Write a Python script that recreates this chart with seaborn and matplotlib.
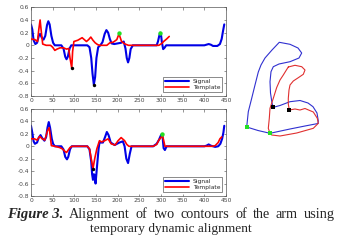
import numpy as np
import pandas as pd
import matplotlib
matplotlib.use("Agg")
import matplotlib.pyplot as plt
import seaborn as sns

# ---------------- data ----------------
# Top panel: original signal (blue) and template (red)
sig_x = [0, 3, 6, 10, 14, 18, 21, 25, 29, 33, 37, 40, 43, 47, 51, 55, 70, 75, 79, 82, 85, 89, 93,
         130, 135, 139, 142, 145, 148, 151, 155, 160, 165, 170, 174, 178, 182, 186, 192, 200, 208,
         214, 218, 221, 224, 227, 230, 235, 290, 293, 296, 298, 300, 302, 305, 308, 312, 400, 405,
         410, 415, 420, 430, 436, 440, 443, 446]
sig_y = [0.33, 0.25, 0.08, 0.02, 0.04, 0.15, 0.18, 0.12, 0.09, 0.15, 0.32, 0.38, 0.33, 0.15, 0.04,
         0.0, 0.0, -0.05, -0.18, -0.22, -0.18, -0.05, 0.0, 0.0, -0.03, -0.2, -0.45, -0.62, -0.5,
         -0.2, -0.03, 0.0, 0.05, 0.18, 0.24, 0.2, 0.1, 0.03, 0.02, 0.03, 0.04, 0.06, -0.05, -0.2,
         -0.27, -0.2, -0.06, 0.0, 0.0, 0.06, 0.15, 0.2, 0.17, 0.05, -0.06, -0.04, 0.0, 0.0, 0.01,
         0.02, 0.01, -0.01, -0.01, 0.02, 0.1, 0.22, 0.33]

tpl_x = [0, 9, 15, 18, 21, 24, 27, 35, 45, 50, 55, 60, 67, 75, 82, 87, 90, 94, 96, 99, 108, 118,
         128, 133, 138, 143, 148, 154, 159, 175, 182, 190, 198, 203, 209, 217, 225, 295, 302, 306,
         313, 319]
tpl_y = [0.1, 0.09, 0.06, 0.25, 0.4, 0.2, 0.02, 0.0, 0.0, -0.03, -0.08, -0.06, -0.04, -0.04, -0.06,
         -0.05, -0.2, -0.36, -0.1, 0.06, 0.08, 0.12, 0.06, 0.09, 0.13, 0.08, 0.04, 0.01, 0.0, 0.0,
         0.04, 0.05, 0.09, 0.18, 0.06, 0.02, 0.0, 0.0, 0.03, 0.06, 0.1, 0.14]

# Bottom panel: warped signal (blue) and warped template (red)
wsig_x = [0, 3, 6, 9, 14, 18, 22, 26, 31, 35, 38, 41, 44, 48, 51, 55, 70, 75, 79, 83, 86, 90, 94,
          130, 135, 139, 141, 143, 145, 147, 149, 152, 156, 158, 166, 171, 175, 179, 184, 193, 204,
          212, 216, 220, 224, 228, 232, 282, 290, 295, 300, 303, 306, 309, 313, 400, 405, 410, 415,
          425, 432, 437, 441, 444, 446]
wsig_y = [0.33, 0.22, 0.08, 0.04, 0.06, 0.14, 0.18, 0.13, 0.09, 0.15, 0.3, 0.39, 0.3, 0.12, 0.04,
          0.0, 0.0, -0.05, -0.17, -0.21, -0.17, -0.05, 0.0, 0.0, -0.05, -0.25, -0.45, -0.54, -0.45,
          -0.46, -0.6, -0.35, -0.04, 0.06, 0.06, 0.15, 0.23, 0.18, 0.06, 0.02, 0.06, 0.08, 0.0, -0.2,
          -0.27, -0.12, 0.0, 0.0, 0.04, 0.1, 0.18, 0.2, -0.03, -0.06, 0.0, 0.0, 0.01, 0.03, 0.01,
          -0.01, 0.0, 0.04, 0.12, 0.22, 0.33]

wtpl_x = [0, 8, 14, 20, 26, 32, 38, 42, 47, 55, 66, 72, 78, 82, 86, 90, 95, 130, 135, 139, 143,
          147, 152, 158, 163, 170, 178, 185, 194, 201, 208, 216, 221, 226, 282, 290, 295, 300, 303,
          306, 309, 418, 425, 432, 436, 440]
wtpl_y = [0.12, 0.12, 0.1, 0.16, 0.12, 0.1, 0.25, 0.3, 0.01, 0.0, -0.02, -0.04, -0.08, -0.1, -0.06,
          -0.02, 0.0, 0.0, -0.04, -0.2, -0.36, -0.2, -0.04, 0.09, 0.07, 0.09, 0.12, 0.04, 0.02, 0.09,
          0.14, 0.09, 0.03, 0.0, 0.0, 0.03, 0.1, 0.14, 0.18, 0.1, 0.0, 0.0, 0.01, 0.06, 0.12, 0.15]

# key points (x, y)
top_black = [(94, -0.36), (145, -0.62)]
top_green = [(203, 0.19), (298, 0.2)]
bot_black = [(143, -0.36)]
bot_green = [(303, 0.19)]

# Right panel: two arm contours (image coordinates)
blue_cx = [246.7, 248.3, 251.7, 255, 258.3, 261, 265, 272, 279.3, 290, 298, 301.7, 299, 290, 279,
           273.3, 271, 270, 270.5, 272, 273.3, 280, 290, 300, 308, 313, 317, 318.3, 318, 305, 290,
           270, 258, 246.7]
blue_cy = [127, 111.7, 98.3, 85, 72, 65, 58, 50, 42.3, 44.3, 48, 53, 58, 61.7, 64, 66.7, 71.7, 81.7,
           93, 103, 107.3, 105.5, 101.7, 100.5, 103, 106.7, 113, 121, 123.5, 126, 129, 133.3, 130.5,
           127]
red_cx = [288.3, 295, 301.7, 305, 303.3, 298.3, 293.3, 290, 289, 288.3, 288.3, 289.3, 295, 300,
          305, 313.3, 317.3, 318.3, 313.3, 296.7, 280, 271.7, 270, 268.3, 269.3, 270, 273.3, 276.7,
          280, 283.3, 286.7, 288.3]
red_cy = [67, 65.3, 66.7, 70, 74.3, 77.7, 81, 85, 90, 98.3, 104, 110, 109, 110, 108.5, 112, 118.3,
          123.3, 128.3, 133, 136, 135, 133.3, 128.3, 118.3, 108.3, 98.3, 87.5, 80, 75, 69.5, 67]
contour_black = [(273.3, 107.3), (289.3, 110)]
contour_green = [(246.7, 127), (270, 133.3)]

caption_bold = "Figure 3."
caption_line1 = "Alignment of two contours of the arm using"
caption_line2 = "temporary dynamic alignment"

# ---------------- drawing ----------------
sns.set_style("white")
W, H = 341, 245
fig = plt.figure(figsize=(W / 100, H / 100), dpi=100)

BLUE = "#0000e6"
RED = "#ff0000"
GREEN = "#22e022"


def style_axes(ax):
    ax.set_xlim(0, 450)
    ax.set_ylim(-0.8, 0.6)
    ax.set_xticks(np.arange(0, 451, 50))
    ax.set_yticks(np.round(np.arange(-0.8, 0.61, 0.2), 1))
    ax.set_yticklabels(["-0.8", "-0.6", "-0.4", "-0.2", "0", "0.2", "0.4", "0.6"])
    ax.tick_params(direction="in", length=1.8, width=0.4, labelsize=4.3, pad=1.5,
                   colors="#444444", top=True, right=True, bottom=True, left=True)
    for s in ax.spines.values():
        s.set_linewidth(0.5)
        s.set_color("#555555")
    ax.set_xlabel("")
    ax.set_ylabel("")


def draw_panel(ax, sx, sy, tx, ty, blacks, greens):
    sns.lineplot(x=sx, y=sy, ax=ax, color=BLUE, lw=1.5, label="Signal",
                 estimator=None, sort=False, zorder=2)
    sns.lineplot(x=tx, y=ty, ax=ax, color=RED, lw=1.2, label="Template",
                 estimator=None, sort=False, zorder=3)
    bx, by = zip(*blacks)
    gx, gy = zip(*greens)
    ax.scatter(bx, by, s=6, color="black", marker="o", zorder=5, linewidths=0)
    ax.scatter(gx, gy, s=10, color=GREEN, marker="o", zorder=5, linewidths=0)
    style_axes(ax)
    leg = ax.legend(loc="lower right", fontsize=4.3, frameon=True, fancybox=False,
                    handlelength=4.0, borderpad=0.35, labelspacing=0.15,
                    handletextpad=0.6, borderaxespad=0.6)
    leg.get_frame().set_linewidth(0.5)
    leg.get_frame().set_edgecolor("#333333")


ax1 = fig.add_axes([31 / W, (H - 96) / H, 195 / W, 88.7 / H])
draw_panel(ax1, sig_x, sig_y, tpl_x, tpl_y, top_black, top_green)

ax2 = fig.add_axes([31 / W, (H - 196) / H, 195 / W, 87 / H])
draw_panel(ax2, wsig_x, wsig_y, wtpl_x, wtpl_y, bot_black, bot_green)

# Right panel: contours
ax3 = fig.add_axes([230 / W, (H - 195) / H, 111 / W, 195 / H])
sns.lineplot(x=blue_cx, y=blue_cy, ax=ax3, color="#3030d0", lw=0.8, sort=False, estimator=None)
sns.lineplot(x=red_cx, y=red_cy, ax=ax3, color="#e03030", lw=0.8, sort=False, estimator=None)
cbx, cby = zip(*contour_black)
cgx, cgy = zip(*contour_green)
ax3.scatter(cbx, cby, s=7, color="black", marker="s", zorder=5, linewidths=0)
ax3.scatter(cgx, cgy, s=9, color=GREEN, marker="s", zorder=5, linewidths=0)
ax3.set_xlim(230, 341)
ax3.set_ylim(195, 0)
ax3.axis("off")

# Caption line 1: justified between ~7 and ~335 px
cap_font = ["Liberation Serif", "DejaVu Serif"]
fs = 10.3
renderer = fig.canvas.get_renderer()
y1 = 1 - 214 / H
pieces = [fig.text(0, y1, caption_bold, family=cap_font, fontsize=fs + 0.2,
                   fontweight="bold", fontstyle="italic", va="center", ha="left")]
for wd in caption_line1.split():
    pieces.append(fig.text(0, y1, wd, family=cap_font, fontsize=fs, va="center", ha="left"))
widths = [p.get_window_extent(renderer).width for p in pieces]
left, right = 7.0, 335.0
gap = (right - left - sum(widths)) / (len(pieces) - 1)
xpos = left
for p, w in zip(pieces, widths):
    p.set_x(xpos / W)
    xpos += w + gap
fig.text(171 / W, 1 - 229 / H, caption_line2, family=cap_font,
         fontsize=9.6, va="center", ha="center")

fig.savefig("out.png", dpi=100)
